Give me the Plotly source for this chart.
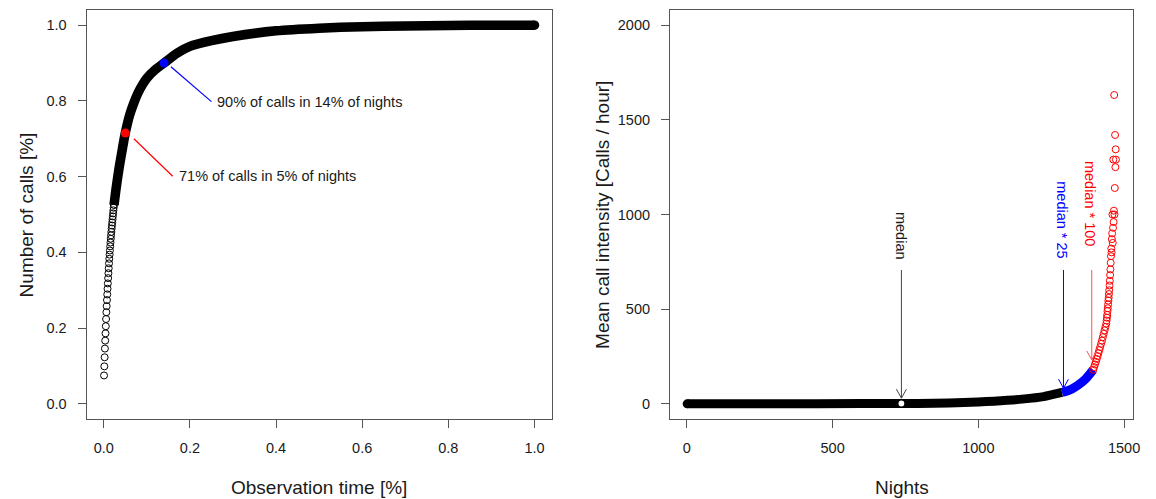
import plotly.graph_objects as go

# ---------------- data ----------------
NIGHTS_TOTAL = 1472

# Left panel: cumulative share of calls for the first (individually visible) nights
left_first_y = [0.075, 0.099, 0.123, 0.146, 0.167, 0.186, 0.205, 0.224, 0.242,
                0.258, 0.274, 0.289, 0.304, 0.318, 0.332, 0.345, 0.358, 0.371, 0.383,
                0.394, 0.405, 0.416, 0.426, 0.436, 0.445, 0.454, 0.463, 0.471, 0.479,
                0.487, 0.495, 0.503, 0.511, 0.518, 0.525]
# Left panel: rest of the cumulative curve
left_curve_x = [0.0238, 0.028, 0.0326, 0.037, 0.042, 0.046, 0.05, 0.06, 0.07, 0.08,
                0.09, 0.10, 0.12, 0.14, 0.17, 0.20, 0.25, 0.30, 0.40, 0.50, 0.60,
                0.70, 0.80, 0.90, 1.00]
left_curve_y = [0.525, 0.563, 0.600, 0.632, 0.665, 0.691, 0.715, 0.762, 0.795, 0.822,
                0.843, 0.860, 0.883, 0.900, 0.926, 0.944, 0.959, 0.970, 0.985, 0.992,
                0.996, 0.998, 0.999, 1.000, 1.000]
mark71 = (0.05, 0.715)
mark90 = (0.14, 0.90)

# Right panel: mean call intensity per night (nights ordered)
black_x = [1, 300, 600, 736, 850, 950, 1000, 1053, 1150, 1224, 1287]
black_y = [0, 0.5, 1.2, 1.8, 3.5, 7, 10, 14, 25, 38, 60]
blue_x = [1287, 1320, 1343, 1370, 1394]
blue_y = [60, 78, 100, 135, 180]
red_x = [1394, 1397, 1400, 1403, 1406, 1409, 1412, 1415, 1418, 1421, 1424, 1427, 1430,
         1433, 1436, 1439,
         1440, 1441, 1442, 1443, 1444, 1445, 1446, 1447, 1448, 1449, 1450, 1451, 1452,
         1453, 1454, 1455,
         1456, 1457, 1458, 1459, 1460, 1461, 1462, 1463, 1464, 1465, 1466, 1467, 1468,
         1469, 1470, 1471, 1472]
red_y = [180, 194, 208, 222, 237, 252, 268, 284, 300, 317, 334, 352, 370, 388, 406, 424,
         440, 455, 470, 490, 505, 525, 545, 560, 580, 600, 625, 650, 680, 710, 745, 780,
         820, 800, 870, 900, 1000, 850, 930, 1290, 960, 1020, 1631, 1000, 1140, 1420,
         1250, 1344, 1290]
median_night = 736
median_value = 1.8
n25_night = 1292
n100_night = 1389

left_xticks = [0.0, 0.2, 0.4, 0.6, 0.8, 1.0]
left_yticks = [0.0, 0.2, 0.4, 0.6, 0.8, 1.0]
right_xticks = [0, 500, 1000, 1500]
right_yticks = [0, 500, 1000, 1500, 2000]

# ---------------- style ----------------
FONT = "Liberation Sans, Arial, sans-serif"
TXT = "#1a1a1a"
LINE = "#555555"
W, H = 1156, 499
OFF = 8  # page body margin


def px(v):
    return (v - OFF) / W


def py(v):
    return 1 - (v - OFF) / H


fig = go.Figure()

# left: individually visible circles
fig.add_trace(go.Scatter(
    x=[(i + 1) / NIGHTS_TOTAL for i in range(len(left_first_y))], y=left_first_y,
    mode="markers", xaxis="x", yaxis="y",
    marker=dict(symbol="circle-open", size=7, color="black", line=dict(width=1)),
    hoverinfo="skip"))
# left: dense chain of circles -> thick band
fig.add_trace(go.Scatter(
    x=left_curve_x, y=left_curve_y, mode="lines", xaxis="x", yaxis="y",
    line=dict(color="black", width=9.5, shape="spline", smoothing=0.6), hoverinfo="skip"))
fig.add_trace(go.Scatter(
    x=[left_curve_x[-1]], y=[left_curve_y[-1]], mode="markers", xaxis="x", yaxis="y",
    marker=dict(symbol="circle", size=9.5, color="black"), hoverinfo="skip"))
# annotation segments
fig.add_trace(go.Scatter(x=[0.07, 0.16], y=[0.70, 0.601], mode="lines",
                         line=dict(color="red", width=1.2), xaxis="x", yaxis="y", hoverinfo="skip"))
fig.add_trace(go.Scatter(x=[0.156, 0.25], y=[0.89, 0.798], mode="lines",
                         line=dict(color="blue", width=1.2), xaxis="x", yaxis="y", hoverinfo="skip"))
fig.add_trace(go.Scatter(x=[mark71[0]], y=[mark71[1]], mode="markers", xaxis="x", yaxis="y",
                         marker=dict(size=9, color="red"), hoverinfo="skip"))
fig.add_trace(go.Scatter(x=[mark90[0]], y=[mark90[1]], mode="markers", xaxis="x", yaxis="y",
                         marker=dict(size=9, color="blue"), hoverinfo="skip"))

# right panel
fig.add_trace(go.Scatter(x=black_x, y=black_y, mode="lines", xaxis="x2", yaxis="y2",
                         line=dict(color="black", width=9, shape="spline", smoothing=0.6),
                         hoverinfo="skip"))
fig.add_trace(go.Scatter(x=[black_x[0]], y=[black_y[0]], mode="markers", xaxis="x2", yaxis="y2",
                         marker=dict(symbol="circle", size=9, color="black"), hoverinfo="skip"))
fig.add_trace(go.Scatter(x=blue_x, y=blue_y, mode="lines", xaxis="x2", yaxis="y2",
                         line=dict(color="blue", width=9, shape="spline", smoothing=0.6),
                         hoverinfo="skip"))
fig.add_trace(go.Scatter(x=red_x, y=red_y, mode="markers", xaxis="x2", yaxis="y2",
                         marker=dict(symbol="circle-open", size=7, color="red", line=dict(width=1)),
                         hoverinfo="skip"))
fig.add_trace(go.Scatter(x=[median_night], y=[median_value], mode="markers", xaxis="x2", yaxis="y2",
                         marker=dict(symbol="circle", size=7, color="white",
                                     line=dict(color="black", width=1.2)),
                         hoverinfo="skip"))

# arrows (R style: line + open V head)
PX_X = 0.2933   # px per night
PX_Y = 0.1895   # px per call/hour
HEAD_HALF = 5 / PX_X
HEAD_LEN = 9 / PX_Y
ARROW_TOP = 707
shapes = []
for xn, tip, col in [(median_night, 30, "#444444"), (n25_night, 83, "blue"), (n100_night, 232, "#ff5050")]:
    shapes.append(dict(type="line", xref="x2", yref="y2", x0=xn, x1=xn, y0=ARROW_TOP, y1=tip,
                       line=dict(color=col, width=1)))
    shapes.append(dict(type="path", xref="x2", yref="y2",
                       path=f"M {xn - HEAD_HALF},{tip + HEAD_LEN} L {xn},{tip} L {xn + HEAD_HALF},{tip + HEAD_LEN}",
                       line=dict(color=col, width=1)))

annotations = [
    dict(x=0.25, y=0.798, xref="x", yref="y", text="90% of calls in 14% of nights",
         showarrow=False, xanchor="left", yanchor="middle", xshift=4,
         font=dict(family=FONT, size=14.5, color=TXT)),
    dict(x=0.16, y=0.601, xref="x", yref="y", text="71% of calls in 5% of nights",
         showarrow=False, xanchor="left", yanchor="middle", xshift=4,
         font=dict(family=FONT, size=14.5, color=TXT)),
    dict(x=735, y=886, xref="x2", yref="y2", text="median", textangle=90, showarrow=False,
         xanchor="center", yanchor="middle", font=dict(family=FONT, size=14.5, color=TXT)),
    dict(x=1286, y=971, xref="x2", yref="y2", text="median * 25", textangle=90, showarrow=False,
         xanchor="center", yanchor="middle", font=dict(family=FONT, size=14.5, color="blue")),
    dict(x=1383, y=1061, xref="x2", yref="y2", text="median * 100", textangle=90, showarrow=False,
         xanchor="center", yanchor="middle", font=dict(family=FONT, size=14.5, color="red")),
    # axis titles
    dict(x=px(321), y=py(487), xref="paper", yref="paper", text="Observation time [%]",
         showarrow=False, xanchor="center", yanchor="middle",
         font=dict(family=FONT, size=19, color=TXT)),
    dict(x=px(907), y=py(487), xref="paper", yref="paper", text="Nights",
         showarrow=False, xanchor="center", yanchor="middle",
         font=dict(family=FONT, size=19, color=TXT)),
    dict(x=px(27), y=py(214.5), xref="paper", yref="paper", text="Number of calls [%]",
         textangle=-90, showarrow=False, xanchor="center", yanchor="middle",
         font=dict(family=FONT, size=19, color=TXT)),
    dict(x=px(606), y=py(214.5), xref="paper", yref="paper",
         text="Mean call intensity [Calls / hour]",
         textangle=-90, showarrow=False, xanchor="center", yanchor="middle",
         font=dict(family=FONT, size=19, color=TXT)),
]

ax_common = dict(showline=True, mirror=True, linecolor=LINE, linewidth=1, ticks="outside",
                 ticklen=8, tickcolor=LINE, tickwidth=1, showgrid=False, zeroline=False,
                 tickfont=dict(family=FONT, size=14.5, color=TXT))
ydom = [py(419), py(10)]
fig.update_layout(
    width=W, height=H, margin=dict(l=0, r=0, t=0, b=0),
    paper_bgcolor="white", plot_bgcolor="white", showlegend=False,
    xaxis=dict(domain=[px(87), px(555)], range=[-0.04, 1.04], tickvals=left_xticks,
               tickformat=".1f", anchor="y", ticklabelstandoff=8, **ax_common),
    yaxis=dict(domain=ydom, range=[-0.04, 1.04], tickvals=left_yticks,
               tickformat=".1f", anchor="x", ticklabelstandoff=8, **ax_common),
    xaxis2=dict(domain=[px(674), px(1140)], range=[-58, 1531], tickvals=right_xticks,
                anchor="y2", ticklabelstandoff=8, **ax_common),
    yaxis2=dict(domain=ydom, range=[-80, 2080], tickvals=right_yticks,
                anchor="x2", ticklabelstandoff=8, **ax_common),
    shapes=shapes, annotations=annotations,
)

fig.write_html("out.html")
